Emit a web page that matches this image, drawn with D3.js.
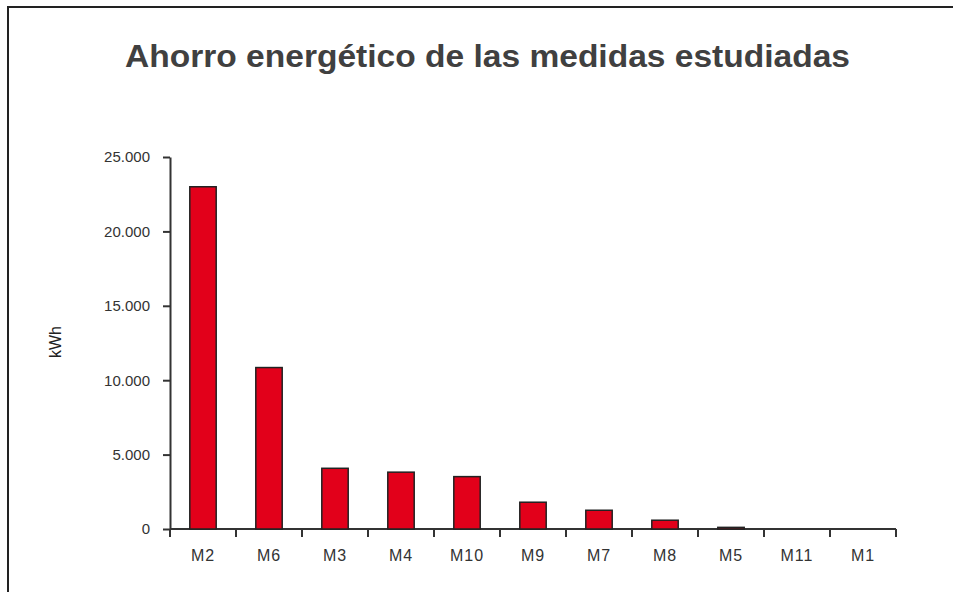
<!DOCTYPE html>
<html>
<head>
<meta charset="utf-8">
<script src="https://cdn.jsdelivr.net/npm/d3@7"></script>
<style>
  body { margin: 0; background: #fff; }
  svg { display: block; font-family: "Liberation Sans", Arial, sans-serif; }
</style>
</head>
<body>
<svg id="chart" width="953" height="592"></svg>
<script>
const categories = ['M2', 'M6', 'M3', 'M4', 'M10', 'M9', 'M7', 'M8', 'M5', 'M11', 'M1'];
const savings = [23000, 10850, 4080, 3820, 3520, 1800, 1260, 590, 110, 0, 0];
const yTicks = [0, 5000, 10000, 15000, 20000, 25000];
const yTickLabels = ['0', '5.000', '10.000', '15.000', '20.000', '25.000'];

const svg = d3.select('#chart');
const width = 953;
const height = 592;

// frame: only top and left edges are visible in the picture
svg.append('path')
  .attr('d', `M8,${height} L8,7 L${width},7`)
  .attr('fill', 'none')
  .attr('stroke', '#222')
  .attr('stroke-width', 2);

svg.append('text')
  .attr('x', 125)
  .attr('y', 67)
  .attr('font-size', 31)
  .attr('font-weight', 'bold')
  .attr('fill', '#404040')
  .attr('textLength', 725)
  .attr('lengthAdjust', 'spacingAndGlyphs')
  .text('Ahorro energético de las medidas estudiadas');

const x = d3.scaleBand()
  .domain(categories)
  .range([170, 896])
  .paddingInner(0.6)
  .paddingOuter(0.3);

const y = d3.scaleLinear()
  .domain([0, 25000])
  .range([529, 157]);

// y axis
const yAxis = svg.append('g')
  .attr('transform', 'translate(170,0)')
  .call(d3.axisLeft(y)
    .tickValues(yTicks)
    .tickFormat((d, i) => yTickLabels[i])
    .tickSize(7)
    .tickSizeOuter(0)
    .tickPadding(13));
yAxis.attr('font-size', 15).attr('font-family', null);
yAxis.select('.domain').attr('stroke', '#333').attr('stroke-width', 2);
yAxis.selectAll('.tick line').attr('stroke', '#333').attr('stroke-width', 2);
yAxis.selectAll('.tick text').attr('fill', '#333');

// x axis: ticks sit between categories
const xTickPos = d3.range(categories.length + 1).map(i => 170 + i * (726 / categories.length));
const xg = svg.append('g');
xg.append('line')
  .attr('x1', 170).attr('x2', 896)
  .attr('y1', y(0)).attr('y2', y(0))
  .attr('stroke', '#333').attr('stroke-width', 2);
xg.selectAll('line.tick')
  .data(xTickPos)
  .join('line')
  .attr('class', 'tick')
  .attr('x1', d => d).attr('x2', d => d)
  .attr('y1', y(0)).attr('y2', y(0) + 8)
  .attr('stroke', '#333').attr('stroke-width', 2);
xg.selectAll('text')
  .data(categories)
  .join('text')
  .attr('x', d => x(d) + x.bandwidth() / 2)
  .attr('y', 561)
  .attr('text-anchor', 'middle')
  .attr('font-size', 16)
  .attr('letter-spacing', 1)
  .attr('fill', '#333')
  .text(d => d);

// y axis title
svg.append('text')
  .attr('transform', 'translate(61,342) rotate(-90)')
  .attr('text-anchor', 'middle')
  .attr('font-size', 16)
  .attr('fill', '#222')
  .text('kWh');

// bars
svg.append('g')
  .selectAll('rect')
  .data(categories.map((c, i) => ({ c, v: savings[i] })).filter(d => d.v > 0))
  .join('rect')
  .attr('x', d => x(d.c))
  .attr('y', d => y(d.v))
  .attr('width', x.bandwidth())
  .attr('height', d => y(0) - y(d.v))
  .attr('fill', '#e2001a')
  .attr('stroke', '#222')
  .attr('stroke-width', 1.5);
</script>
</body>
</html>
